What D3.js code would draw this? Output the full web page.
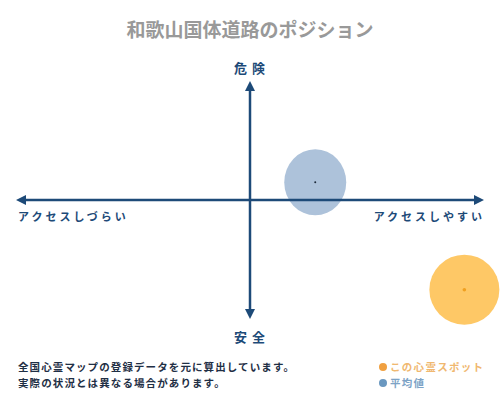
<!DOCTYPE html>
<meta charset="utf-8">
<style>

body {
  margin: 0;
  background: #fff;
}

svg {
  font-family: "Noto Sans CJK JP", sans-serif;
  font-weight: bold;
}

</style>
<svg width="500" height="400">
  <defs>
    <marker id="head" markerWidth="4" markerHeight="4" refX="2" refY="2" orient="auto-start-reverse" markerUnits="strokeWidth">
      <path d="M0,0 L4,2 L0,4 z" fill="#1d4a78"></path>
    </marker>
  </defs>
</svg>
<script src="https://d3js.org/d3.v7.min.js"></script>
<script>

// positions on a -10..10 grid: x = access (easy +), y = danger (+)
var names = ["平均値", "この心霊スポット"],
    accessValues = [2.8, 9.2],
    dangerValues = [1.5, -7.6],
    pointColors = ["#adc2da", "#fec866"],
    dotColors = ["#1d2a3a", "#f0a020"];

var axisLabels = {top: "危険", bottom: "安全", left: "アクセスしづらい", right: "アクセスしやすい"};

var notes = ["全国心霊マップの登録データを元に算出しています。", "実際の状況とは異なる場合があります。"],
    legendItems = ["この心霊スポット", "平均値"],
    legendColors = ["#f0a040", "#6a98c0"],
    legendText = ["#f0b870", "#7da3c6"];

</script>
<script>

var svg = d3.select("svg");

var x = d3.scaleLinear().domain([-10, 10]).range([17, 483]),
    y = d3.scaleLinear().domain([-10, 10]).range([318, 82]);

var navy = "#1d4a78";

svg.append("text")
    .attr("x", 250)
    .attr("y", 37)
    .attr("text-anchor", "middle")
    .attr("fill", "#999")
    .style("font-size", "19px")
    .text("和歌山国体道路のポジション");

// points (under the axes)
var pts = svg.selectAll(".pt")
  .data(names)
  .enter().append("g")
    .attr("class", "pt");

pts.append("ellipse")
    .attr("cx", function(d, i) { return x(accessValues[i]); })
    .attr("cy", function(d, i) { return y(dangerValues[i]); })
    .attr("rx", function(d, i) { return i ? 35 : 31; })
    .attr("ry", function(d, i) { return i ? 35 : 33; })
    .attr("fill", function(d, i) { return pointColors[i]; });

pts.append("circle")
    .attr("cx", function(d, i) { return x(accessValues[i]); })
    .attr("cy", function(d, i) { return y(dangerValues[i]); })
    .attr("r", function(d, i) { return i ? 1.8 : 1; })
    .attr("fill", function(d, i) { return dotColors[i]; });

// axes
svg.append("line")
    .attr("x1", x(-10) + 4).attr("x2", x(10) - 4)
    .attr("y1", y(0)).attr("y2", y(0))
    .attr("stroke", navy)
    .attr("stroke-width", 2.5)
    .attr("marker-start", "url(#head)")
    .attr("marker-end", "url(#head)");

svg.append("line")
    .attr("x1", x(0)).attr("x2", x(0))
    .attr("y1", y(10) + 4).attr("y2", y(-10) - 4)
    .attr("stroke", navy)
    .attr("stroke-width", 2.5)
    .attr("marker-start", "url(#head)")
    .attr("marker-end", "url(#head)");

svg.append("text")
    .attr("x", x(0) + 2)
    .attr("y", 73)
    .attr("text-anchor", "middle")
    .attr("fill", navy)
    .style("font-size", "13px")
    .style("letter-spacing", "5px")
    .text(axisLabels.top);

svg.append("text")
    .attr("x", x(0) + 2)
    .attr("y", 342)
    .attr("text-anchor", "middle")
    .attr("fill", navy)
    .style("font-size", "13px")
    .style("letter-spacing", "5px")
    .text(axisLabels.bottom);

svg.append("text")
    .attr("x", 18)
    .attr("y", 221)
    .attr("fill", navy)
    .style("font-size", "11px")
    .style("letter-spacing", "3px")
    .text(axisLabels.left);

svg.append("text")
    .attr("x", 485)
    .attr("y", 221)
    .attr("text-anchor", "end")
    .attr("fill", navy)
    .style("font-size", "11px")
    .style("letter-spacing", "3px")
    .text(axisLabels.right);

// notes
svg.selectAll(".note")
  .data(notes)
  .enter().append("text")
    .attr("class", "note")
    .attr("x", 18)
    .attr("y", function(d, i) { return 371 + i * 16; })
    .attr("fill", "#1f2f45")
    .style("font-size", "10.5px")
    .style("letter-spacing", "1.1px")
    .text(function(d) { return d; });

// legend
var leg = svg.selectAll(".leg")
  .data(legendItems)
  .enter().append("g")
    .attr("class", "leg")
    .attr("transform", function(d, i) { return "translate(383," + (367 + i * 16) + ")"; });

leg.append("circle")
    .attr("r", 4)
    .attr("fill", function(d, i) { return legendColors[i]; });

leg.append("text")
    .attr("x", 7)
    .attr("y", 4)
    .attr("fill", function(d, i) { return legendText[i]; })
    .style("font-size", "10.5px")
    .style("letter-spacing", "1.3px")
    .text(function(d) { return d; });

</script>
